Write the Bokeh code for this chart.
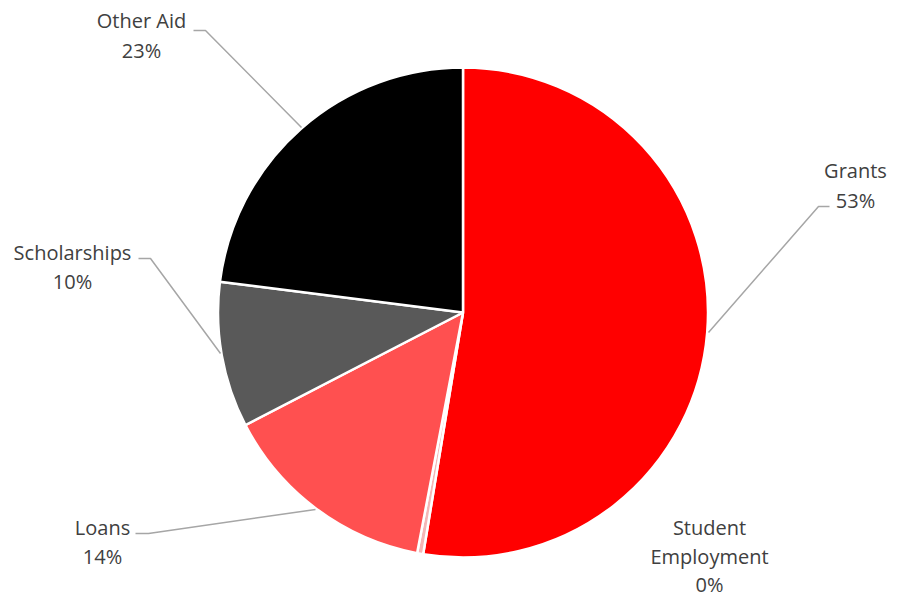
import math
from bokeh.plotting import figure
from bokeh.models import Range1d, ColumnDataSource
from bokeh.core.properties import value
from bokeh.embed import file_html
from bokeh.resources import INLINE

# ---- data ----
categories = ["Grants", "Student Employment", "Loans", "Scholarships", "Other Aid"]
values = [52.6, 0.4, 14.4, 9.6, 23.0]
colors = ["#FF0000", "#F4B6B6", "#FF5050", "#595959", "#000000"]

# ---- layout (pixel-like coordinates; y measured upward) ----
W, H = 900, 599
def Y(img_y):
    return H - img_y

cx, cy, r = 462.5, Y(312), 245

total = sum(values)
starts, ends, cum = [], [], 0.0
for v in values:
    starts.append(math.pi / 2 - 2 * math.pi * cum / total)
    cum += v
    ends.append(math.pi / 2 - 2 * math.pi * cum / total)

src = ColumnDataSource(dict(cat=categories, val=values, color=colors,
                            start=starts, end=ends))

p = figure(width=W, height=H, output_backend="svg", toolbar_location=None,
           x_range=Range1d(0, W), y_range=Range1d(0, H),
           min_border=0)
p.axis.visible = False
p.grid.visible = False
p.outline_line_color = None
p.background_fill_color = "white"

p.wedge(x=cx, y=cy, radius=r, start_angle="start", end_angle="end",
        direction="clock", fill_color="color", line_color="white",
        line_width=2.5, source=src)

# leader lines (image coords)
leaders = {
    "Other Aid": [(193, 30), (205, 30), (301, 127)],
    "Scholarships": [(138, 258), (150, 258), (220, 353)],
    "Grants": [(829, 206), (818, 206), (708, 332)],
    "Loans": [(135, 533), (148, 533), (315, 509)],
}
for pts in leaders.values():
    p.line([q[0] for q in pts], [Y(q[1]) for q in pts],
           line_color="#A6A6A6", line_width=1.5)

# labels
pct = {c: f"{round(v / total * 100)}%" for c, v in zip(categories, values)}
label_pos = {
    "Other Aid": (141, [20, 50], ["Other Aid"]),
    "Scholarships": (72, [252, 281], ["Scholarships"]),
    "Grants": (855, [170, 200], ["Grants"]),
    "Loans": (102, [527, 556], ["Loans"]),
    "Student Employment": (709, [527, 556, 584], ["Student", "Employment"]),
}
tx, ty, tt = [], [], []
for c in categories:
    x, ys, lines = label_pos[c]
    lines = lines + [pct[c]]
    for yy, t in zip(ys, lines):
        tx.append(x)
        ty.append(Y(yy))
        tt.append(t)
p.text(x=tx, y=ty, text=tt, text_align="center", text_baseline="middle",
       text_font=value("Open Sans"), text_font_size="20px",
       text_color="#404040")

open("out.html", "w").write(file_html(p, INLINE))
